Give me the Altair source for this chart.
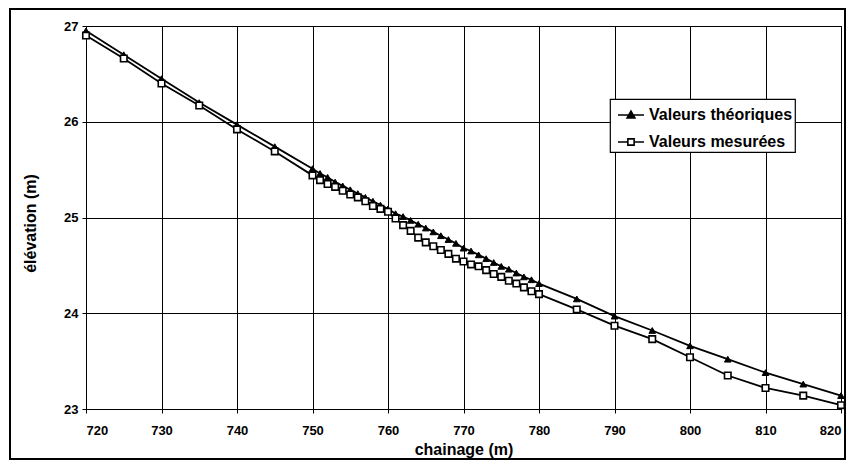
import altair as alt
import pandas as pd

# chainage (m)
chainage = [720, 725, 730, 735, 740, 745,
            750, 751, 752, 753, 754, 755, 756, 757, 758, 759,
            760, 761, 762, 763, 764, 765, 766, 767, 768, 769,
            770, 771, 772, 773, 774, 775, 776, 777, 778, 779, 780,
            785, 790, 795, 800, 805, 810, 815, 820]

theoriques = [26.95, 26.70, 26.45, 26.20, 25.97, 25.74,
              25.51, 25.46, 25.42, 25.37, 25.33, 25.29, 25.25, 25.21, 25.17, 25.13,
              25.09, 25.04, 25.01, 24.97, 24.93, 24.89, 24.85, 24.81, 24.77, 24.73,
              24.68, 24.65, 24.61, 24.57, 24.53, 24.49, 24.46, 24.42, 24.38, 24.35, 24.31,
              24.15, 23.97, 23.82, 23.66, 23.52, 23.38, 23.26, 23.14]

mesurees = [26.90, 26.66, 26.40, 26.17, 25.92, 25.69,
            25.44, 25.39, 25.35, 25.32, 25.28, 25.24, 25.21, 25.17, 25.12, 25.09,
            25.06, 24.99, 24.92, 24.86, 24.79, 24.74, 24.70, 24.66, 24.62, 24.57,
            24.54, 24.51, 24.49, 24.45, 24.41, 24.38, 24.34, 24.31, 24.27, 24.23, 24.20,
            24.04, 23.87, 23.73, 23.54, 23.35, 23.22, 23.14, 23.04]

series_names = ["Valeurs théoriques", "Valeurs mesurées"]
x_ticks = [720, 730, 740, 750, 760, 770, 780, 790, 800, 810, 820]
y_ticks = [23, 24, 25, 26, 27]

rows = []
for c, t in zip(chainage, theoriques):
    rows.append({"chainage": c, "elevation": t, "serie": series_names[0]})
for c, m in zip(chainage, mesurees):
    rows.append({"chainage": c, "elevation": m, "serie": series_names[1]})
df = pd.DataFrame(rows)

FONT = "Liberation Sans"

xenc = alt.X("chainage:Q",
             scale=alt.Scale(domain=[720, 820], nice=False, zero=False),
             axis=alt.Axis(values=x_ticks, title="chainage (m)", grid=True,
                           gridColor="black", gridOpacity=1, gridWidth=1,
                           domainColor="black", tickColor="black", tickSize=4,
                           labelPadding=11, labelFont=FONT, labelFontSize=13,
                           labelFontWeight="bold", labelColor="black",
                           titleFont=FONT, titleFontSize=16, titleFontWeight="bold",
                           titleColor="black", titleY=45, titleBaseline="alphabetic"))
yenc = alt.Y("elevation:Q",
             scale=alt.Scale(domain=[23, 27], nice=False, zero=False),
             axis=alt.Axis(values=y_ticks, title="élévation (m)", grid=True,
                           gridColor="black", gridOpacity=1, gridWidth=1,
                           domainColor="black", tickColor="black", tickSize=4,
                           labelPadding=4, labelFont=FONT, labelFontSize=13,
                           labelFontWeight="bold", labelColor="black",
                           titleFont=FONT, titleFontSize=16, titleFontWeight="bold",
                           titleColor="black", titleAngle=-90, titleX=-56, titleY=197,
                           titleAlign="center", titleBaseline="middle"))

base = alt.Chart(df)

frame = alt.Chart(pd.DataFrame({"f": [0]})).mark_rect(
    fill="white", fillOpacity=0, stroke="black", strokeWidth=2
).encode(x=alt.value(-76), x2=alt.value(759), y=alt.value(-17), y2=alt.value(433))

lines = base.mark_line(color="black", strokeWidth=1.8).encode(
    x=xenc, y=yenc, detail="serie:N"
)

tri = base.transform_filter(alt.datum.serie == series_names[0]).mark_point(
    shape="triangle-up", filled=True, fill="black", stroke="black",
    strokeWidth=1, size=44, opacity=1
).encode(x=xenc, y=yenc)

sq = base.transform_filter(alt.datum.serie == series_names[1]).mark_point(
    shape="square", filled=True, fill="white", stroke="black",
    strokeWidth=1.6, size=42, opacity=1
).encode(x=xenc, y=yenc)

path_tri = "M-1,0L1,0M0,-0.3L0.3,0.22L-0.3,0.22Z"
path_sq = "M-1,0L-0.24,0M0.24,0L1,0M-0.24,-0.24L0.24,-0.24L0.24,0.24L-0.24,0.24Z"

leg = alt.Legend(title=None, orient="none", legendX=524, legendY=73,
                 symbolSize=676, symbolStrokeColor="black", symbolStrokeWidth=1.6,
                 symbolOpacity=1, symbolOffset=5, labelFont=FONT, labelFontSize=16,
                 labelFontWeight="bold", labelColor="black", labelOffset=4,
                 rowPadding=5, padding=2, fillColor="white", strokeColor="black")

legend_layer = base.mark_point(filled=True, opacity=0).encode(
    x=xenc, y=yenc,
    shape=alt.Shape("serie:N", scale=alt.Scale(domain=series_names, range=[path_tri, path_sq]),
                    legend=leg),
    fill=alt.Fill("serie:N", scale=alt.Scale(domain=series_names, range=["black", "white"]),
                  legend=leg),
    stroke=alt.Stroke("serie:N", scale=alt.Scale(domain=series_names, range=["black", "black"]),
                      legend=leg),
)

chart = alt.layer(frame, lines, tri, sq, legend_layer).properties(
    width=755, height=383,
    autosize=alt.AutoSizeParams(type="none"),
    padding={"left": 78, "top": 18, "right": 6, "bottom": 51},
    background="white",
).configure_view(stroke="black", strokeWidth=1).configure_legend(strokeWidth=1.2)

chart.save("out.html", embed_options={"renderer": "svg", "actions": False})
